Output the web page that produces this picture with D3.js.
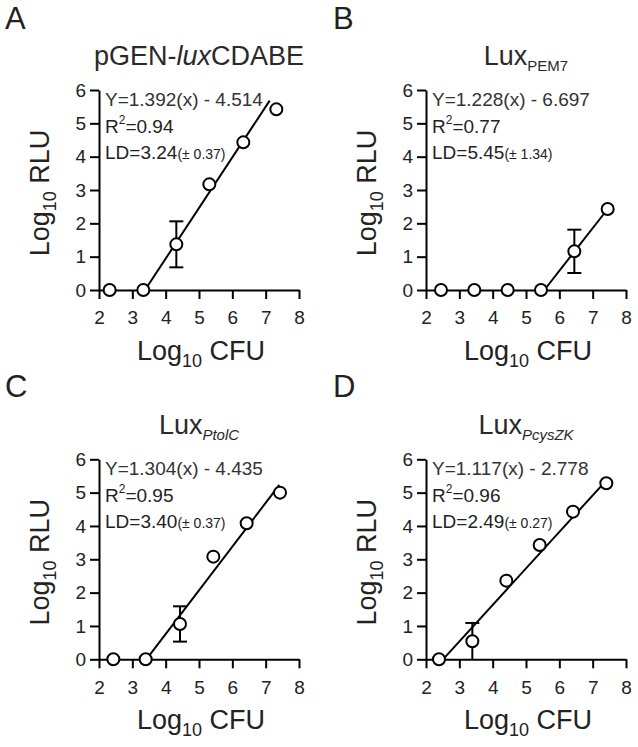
<!DOCTYPE html>
<html>
<head>
<meta charset="utf-8">
<script src="https://cdn.jsdelivr.net/npm/d3@7"></script>
<style>
  html, body { margin: 0; padding: 0; background: #fff; }
  svg { display: block; font-family: "Liberation Sans", Arial, Helvetica, sans-serif; }
</style>
</head>
<body>
<svg id="chart" width="638" height="747"></svg>
<script>
// ---------- data ----------
const panelLetters = ["A", "B", "C", "D"];
const titleMain = ["pGEN-", "Lux", "Lux", "Lux"];
const titleItalic = ["lux", "", "", ""];
const titleRest = ["CDABE", "", "", ""];
const titleSub = ["", "PEM7", "PtolC", "PcysZK"];
const titleSubItalic = [false, false, true, true];

const xTicks = [2, 3, 4, 5, 6, 7, 8];
const yTicks = [0, 1, 2, 3, 4, 5, 6];

const xA = [2.32, 3.33, 4.32, 5.31, 6.33, 7.32];
const yA = [0, 0, 1.37, 3.17, 4.43, 5.42];
const eA = [0, 0, 0.69, 0, 0, 0];

const xB = [2.45, 3.45, 4.45, 5.45, 6.45, 7.45];
const yB = [0, 0, 0, 0, 1.16, 2.43];
const eB = [0, 0, 0, 0, 0.65, 0];

const xC = [2.43, 3.40, 4.43, 5.43, 6.43, 7.43];
const yC = [0, 0, 1.06, 3.08, 4.08, 5.0];
const eC = [0, 0, 0.53, 0, 0, 0];

const xD = [2.39, 3.39, 4.41, 5.41, 6.41, 7.41];
const yD = [0, 0.54, 2.36, 3.43, 4.43, 5.28];
const eD = [0, 0.55, 0, 0, 0, 0];

// fitted lines [x0, y0, x1, y1]
const fitA = [3.38, 0, 7.12, 5.68];
const fitB = [5.55, 0, 7.45, 2.43];
const fitC = [3.42, 0, 7.41, 5.23];
const fitD = [2.51, 0, 7.35, 5.30];

const eqText = ["Y=1.392(x) - 4.514", "Y=1.228(x) - 6.697", "Y=1.304(x) - 4.435", "Y=1.117(x) - 2.778"];
const r2Text = ["=0.94", "=0.77", "=0.95", "=0.96"];
const ldText = ["LD=3.24", "LD=5.45", "LD=3.40", "LD=2.49"];
const ldErrText = ["(± 0.37)", "(± 1.34)", "(± 0.37)", "(± 0.27)"];

const xs = [xA, xB, xC, xD], ys = [yA, yB, yC, yD], es = [eA, eB, eC, eD];
const fits = [fitA, fitB, fitC, fitD];

// ---------- layout ----------
const svg = d3.select("#chart");
const TXT = "#222";
const frames = [
  { left: 99, top: 90 },
  { left: 426, top: 90 },
  { left: 99, top: 459.3 },
  { left: 426, top: 459.3 }
];
const W = 200, H = 200;

frames.forEach((f, i) => {
  const x = d3.scaleLinear().domain([2, 8]).range([f.left, f.left + W]);
  const y = d3.scaleLinear().domain([0, 6]).range([f.top + H, f.top]);
  const g = svg.append("g");

  // panel letter
  svg.append("text")
    .attr("x", (i % 2 === 0 ? 5 : 333))
    .attr("y", (i < 2 ? 29 : 397))
    .attr("font-size", 31)
    .attr("fill", TXT)
    .text(panelLetters[i]);

  // title
  const t = svg.append("text")
    .attr("x", (x(2) + x(8)) / 2)
    .attr("y", f.top - 25)
    .attr("text-anchor", "middle")
    .attr("font-size", 27)
    .attr("fill", "#2a2a2a");
  t.append("tspan").text(titleMain[i]);
  if (titleItalic[i]) t.append("tspan").attr("font-style", "italic").text(titleItalic[i]);
  if (titleRest[i]) t.append("tspan").text(titleRest[i]);
  if (titleSub[i]) {
    t.append("tspan").attr("font-size", 15).attr("dy", 6)
      .attr("font-style", titleSubItalic[i] ? "italic" : "normal")
      .text(titleSub[i]);
  }

  // axes
  const fmt = d3.format("d");
  const yAxis = d3.axisLeft(y).tickValues(yTicks).tickFormat(fmt).tickSize(9).tickSizeOuter(0).tickPadding(4);
  const xAxis = d3.axisBottom(x).tickValues(xTicks).tickFormat(fmt).tickSize(9).tickSizeOuter(0).tickPadding(12);
  const ga = g.append("g").attr("transform", `translate(${x(2)},0)`).call(yAxis);
  const gb = g.append("g").attr("transform", `translate(0,${y(0)})`).call(xAxis);
  [ga, gb].forEach(a => {
    a.select(".domain").attr("stroke", "#000").attr("stroke-width", 2);
    a.selectAll(".tick line").attr("stroke", "#000").attr("stroke-width", 2);
    a.selectAll(".tick text").attr("font-size", 19).attr("fill", TXT)
      .attr("font-family", "\"Liberation Sans\", Arial, sans-serif");
  });

  // axis titles
  const yl = svg.append("text")
    .attr("transform", `translate(${x(2) - 50},${(y(0) + y(6)) / 2 + 3}) rotate(-90)`)
    .attr("text-anchor", "middle")
    .attr("font-size", 27)
    .attr("fill", TXT);
  yl.append("tspan").text("Log");
  yl.append("tspan").attr("font-size", 18).attr("dy", 7).text("10");
  yl.append("tspan").attr("dy", -7).text(" RLU");

  const xl = svg.append("text")
    .attr("x", (x(2) + x(8)) / 2 + 2)
    .attr("y", y(0) + 70)
    .attr("text-anchor", "middle")
    .attr("font-size", 27)
    .attr("fill", TXT);
  xl.append("tspan").text("Log");
  xl.append("tspan").attr("font-size", 18).attr("dy", 7).text("10");
  xl.append("tspan").attr("dy", -7).text(" CFU");

  // equation annotations
  const ex = x(2) + 6;
  svg.append("text").attr("x", ex).attr("y", y(6) + 16)
    .attr("font-size", 19).attr("fill", "#333").text(eqText[i]);
  const r2 = svg.append("text").attr("x", ex).attr("y", y(6) + 43)
    .attr("font-size", 19).attr("fill", TXT);
  r2.append("tspan").text("R");
  r2.append("tspan").attr("font-size", 12).attr("dy", -9).text("2");
  r2.append("tspan").attr("dy", 9).text(r2Text[i]);
  const ld = svg.append("text").attr("x", ex).attr("y", y(6) + 68.5)
    .attr("font-size", 19).attr("fill", TXT);
  ld.append("tspan").text(ldText[i]);
  ld.append("tspan").attr("font-size", 14).text(ldErrText[i]);

  // fitted line
  const fl = fits[i];
  g.append("line")
    .attr("x1", x(fl[0])).attr("y1", y(fl[1]))
    .attr("x2", x(fl[2])).attr("y2", y(fl[3]))
    .attr("stroke", "#000").attr("stroke-width", 2);

  // error bars
  const pts = xs[i].map((xv, k) => ({ x: xv, y: ys[i][k], e: es[i][k] }));
  pts.filter(p => p.e > 0).forEach(p => {
    const lo = Math.max(0, p.y - p.e), hi = p.y + p.e;
    g.append("line").attr("x1", x(p.x)).attr("x2", x(p.x))
      .attr("y1", y(lo)).attr("y2", y(hi)).attr("stroke", "#000").attr("stroke-width", 2);
    g.append("line").attr("x1", x(p.x) - 7).attr("x2", x(p.x) + 7)
      .attr("y1", y(hi)).attr("y2", y(hi)).attr("stroke", "#000").attr("stroke-width", 2);
    if (p.y - p.e > 0) {
      g.append("line").attr("x1", x(p.x) - 7).attr("x2", x(p.x) + 7)
        .attr("y1", y(lo)).attr("y2", y(lo)).attr("stroke", "#000").attr("stroke-width", 2);
    }
  });

  // points
  g.selectAll("circle.pt").data(pts).enter().append("circle")
    .attr("class", "pt")
    .attr("cx", d => x(d.x)).attr("cy", d => y(d.y))
    .attr("r", 6)
    .attr("fill", "#fff").attr("stroke", "#000").attr("stroke-width", 2);
});
</script>
</body>
</html>
